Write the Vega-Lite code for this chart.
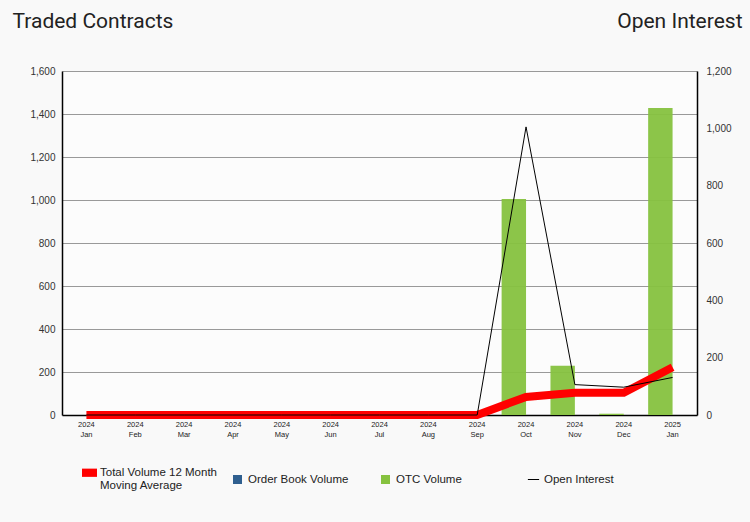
{
  "$schema": "https://vega.github.io/schema/vega-lite/v6.json",
  "autosize": {"type": "none"},
  "padding": {"left": 62, "top": 71, "right": 53, "bottom": 107},
  "width": 635,
  "height": 344,
  "background": "#f9f9f9",
  "config": {
    "view": {"fill": "#fcfcfc", "stroke": null},
    "axis": {"labelFont": "Liberation Sans", "labelColor": "#333", "domainColor": "#000", "titleFont": "Roboto", "titleFontWeight": "normal", "titleColor": "#222"}
  },
  "data": {"values": [
    {"month": "2024 Jan", "otc": 0, "orderBook": 0, "ma": 0, "oi": 0},
    {"month": "2024 Feb", "otc": 0, "orderBook": 0, "ma": 0, "oi": 0},
    {"month": "2024 Mar", "otc": 0, "orderBook": 0, "ma": 0, "oi": 0},
    {"month": "2024 Apr", "otc": 0, "orderBook": 0, "ma": 0, "oi": 0},
    {"month": "2024 May", "otc": 0, "orderBook": 0, "ma": 0, "oi": 0},
    {"month": "2024 Jun", "otc": 0, "orderBook": 0, "ma": 0, "oi": 0},
    {"month": "2024 Jul", "otc": 0, "orderBook": 0, "ma": 0, "oi": 0},
    {"month": "2024 Aug", "otc": 0, "orderBook": 0, "ma": 0, "oi": 0},
    {"month": "2024 Sep", "otc": 0, "orderBook": 0, "ma": 0, "oi": 0},
    {"month": "2024 Oct", "otc": 1005, "orderBook": 0, "ma": 84, "oi": 1005},
    {"month": "2024 Nov", "otc": 229, "orderBook": 0, "ma": 103, "oi": 106},
    {"month": "2024 Dec", "otc": 6, "orderBook": 0, "ma": 103, "oi": 97},
    {"month": "2025 Jan", "otc": 1428, "orderBook": 0, "ma": 222, "oi": 131}
  ]},
  "encoding": {
    "x": {
      "field": "month", "type": "nominal", "sort": null,
      "scale": {"paddingInner": 0, "paddingOuter": 0},
      "axis": {"title": null, "labelAngle": 0, "labelExpr": "split(datum.label, ' ')", "labelFontSize": 7.5, "labelLineHeight": 10, "labelColor": "#222", "ticks": false, "labelPadding": 5, "domainWidth": 1.5}
    }
  },
  "layer": [
    {
      "layer": [
        {
          "transform": [{"fold": ["otc", "orderBook"], "as": ["series", "volume"]}],
          "mark": {"type": "bar", "opacity": 0.95, "color": "#86c23f"},
          "encoding": {
            "xOffset": {"field": "series", "type": "nominal", "sort": ["otc", "orderBook"], "scale": {"paddingInner": 0, "paddingOuter": 0}},
            "y": {
              "field": "volume", "type": "quantitative",
              "scale": {"domain": [0, 1600], "nice": false},
              "axis": {
                "title": "Traded Contracts", "titleAngle": 0, "titleAlign": "left", "titleBaseline": "alphabetic", "titleX": -50, "titleY": -44, "titleFontSize": 21,
                "values": [0,100,200,300,400,500,600,700,800,900,1000,1100,1200,1300,1400,1500,1600],
                "labelExpr": "datum.value % 200 == 0 ? format(datum.value, ',') : ''",
                "labelFontSize": 10, "labelPadding": 11,
                "tickSize": -4, "tickColor": "#000",
                "tickOpacity": {"condition": {"test": "datum.value % 200 != 0", "value": 1}, "value": 0},
                "grid": true, "gridColor": "#999",
                "gridOpacity": {"condition": {"test": "datum.value % 200 == 0 && datum.value > 0", "value": 1}, "value": 0},
                "domainWidth": 1.5
              }
            }
          }
        },
        {
          "mark": {"type": "line", "color": "#ff0000", "strokeWidth": 8, "strokeCap": "butt"},
          "encoding": {
            "y": {"field": "ma", "type": "quantitative"}
          }
        },
        {
          "transform": [{"filter": "false"}],
          "mark": {"type": "point", "filled": true, "opacity": 1},
          "encoding": {
            "color": {
              "field": "legendSeries", "type": "nominal",
              "scale": {"domain": ["Total Volume 12 Month Moving Average", "Order Book Volume", "OTC Volume", "Open Interest"], "range": ["#ff0000", "#2f5f8f", "#86c23f", "#000000"]},
              "legend": {
                "title": null, "orient": "none", "legendX": 20, "legendY": 394, "direction": "horizontal", "columns": 4, "gridAlign": "all",
                "columnPadding": 13, "symbolSize": 225, "symbolStrokeWidth": 0, "labelOffset": 3, "labelFontSize": 11.5, "labelFont": "Liberation Sans", "labelColor": "#222", "labelLimit": 250,
                "labelExpr": "datum.label == 'Total Volume 12 Month Moving Average' ? ['Total Volume 12 Month', 'Moving Average'] : datum.label"
              }
            },
            "shape": {
              "field": "legendSeries", "type": "nominal",
              "scale": {"domain": ["Total Volume 12 Month Moving Average", "Order Book Volume", "OTC Volume", "Open Interest"], "range": ["M-1,-0.55H1V0.55H-1Z", "M-0.6,-0.6H0.6V0.6H-0.6Z", "M-0.6,-0.6H0.6V0.6H-0.6Z", "M-0.75,-0.07H0.75V0.07H-0.75Z"]},
              "legend": {
                "title": null, "orient": "none", "legendX": 20, "legendY": 394, "direction": "horizontal", "columns": 4, "gridAlign": "all",
                "columnPadding": 13, "symbolSize": 225, "symbolStrokeWidth": 0, "labelOffset": 3, "labelFontSize": 11.5, "labelFont": "Liberation Sans", "labelColor": "#222", "labelLimit": 250,
                "labelExpr": "datum.label == 'Total Volume 12 Month Moving Average' ? ['Total Volume 12 Month', 'Moving Average'] : datum.label"
              }
            }
          }
        }
      ]
    },
    {
      "mark": {"type": "line", "color": "#000", "strokeWidth": 1},
      "encoding": {
        "y": {
          "field": "oi", "type": "quantitative", "scale": {"domain": [0, 1200], "nice": false},
          "axis": {"orient": "right", "title": "Open Interest", "titleAngle": 0, "titleAlign": "right", "titleBaseline": "alphabetic", "titleX": 45, "titleY": -44, "titleFontSize": 21,
            "values": [0, 200, 400, 600, 800, 1000, 1200], "labelExpr": "format(datum.value, ',')", "labelFontSize": 10, "ticks": false, "labelPadding": 9, "grid": false, "domainWidth": 1.5}
        }
      }
    }
  ],
  "resolve": {"scale": {"y": "independent"}}
}
